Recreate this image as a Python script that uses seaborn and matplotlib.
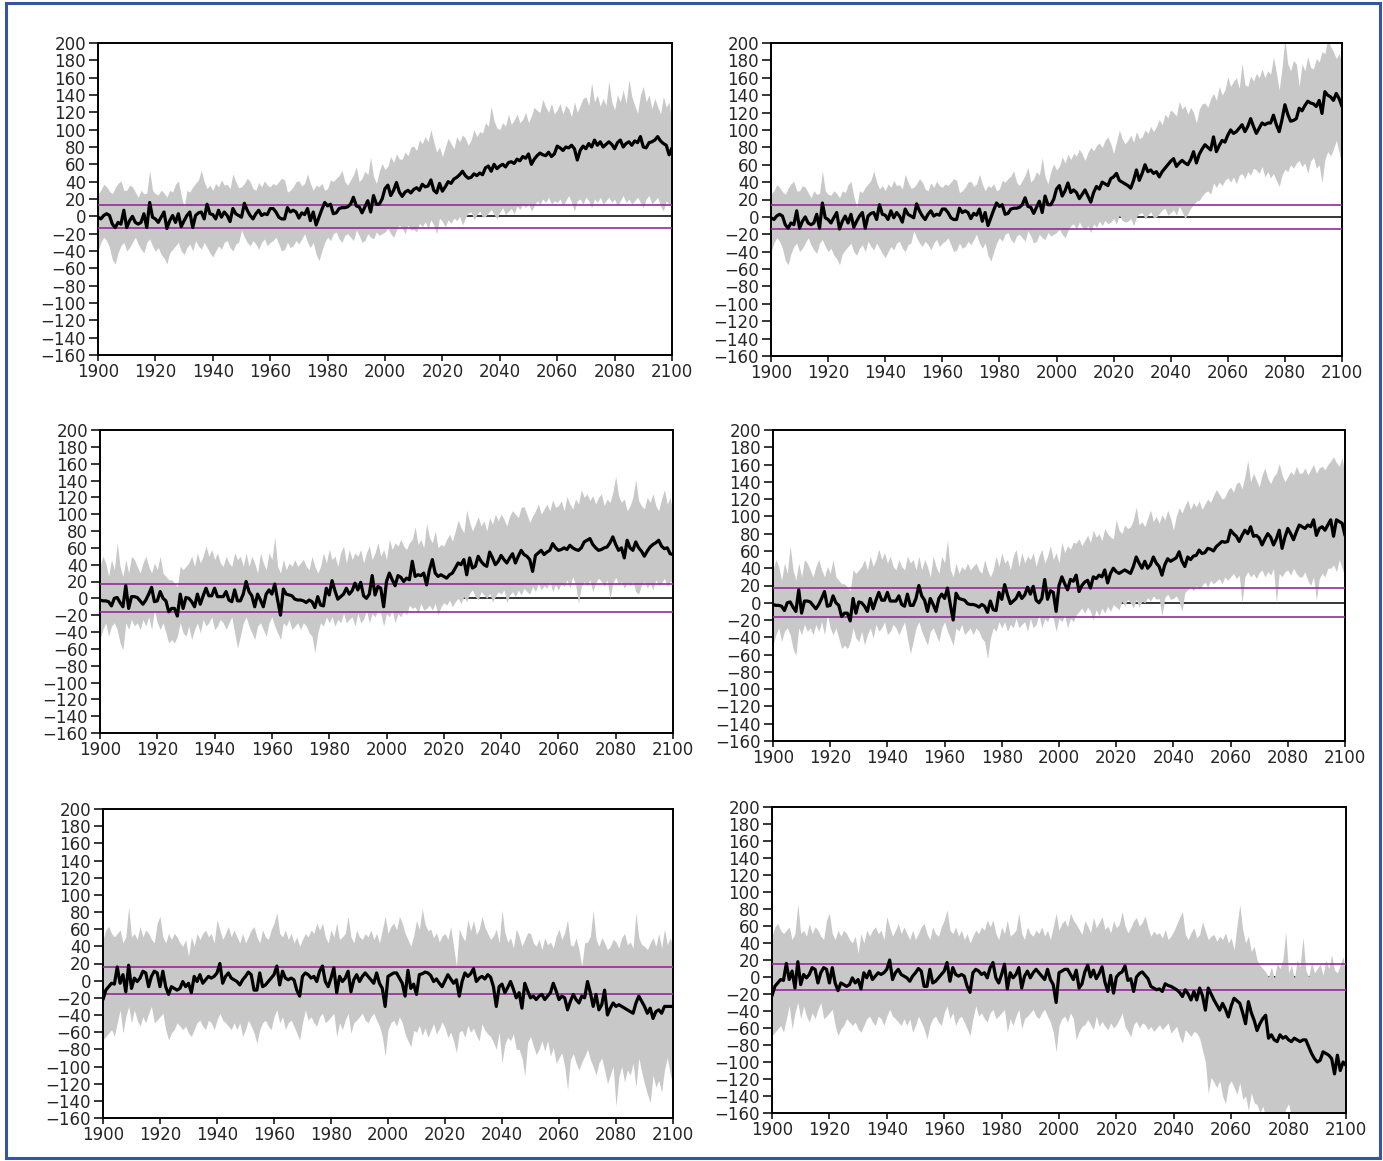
import numpy as np
import matplotlib
matplotlib.use('Agg')
import matplotlib.pyplot as plt
import seaborn as sns
from matplotlib.patches import Rectangle

# ---- data: historical 1900-2005, scenarios 2006-2100 ----
hist_years = list(range(1900, 2006))
fut_years = list(range(2006, 2101))

# row 1 (shared historical run)
r1_hist_mid = [-1, -3, 1, 3, 1, -9, -13, -7, -9, 7,
               -13, -5, 0, -7, -9, -7, 3, -13, 16, -1,
               -3, -7, -1, 5, -14, -5, 1, -7, 3, -12,
               -5, 1, 5, -13, 1, 4, 5, -3, 14, 3,
               2, -3, 7, -1, 5, 1, -6, 9, 3, 1,
               -1, 15, 7, 1, -3, 3, 7, 1, 3, 2,
               9, 9, 5, -1, -3, -3, 10, 5, 7, 5,
               -2, 4, 2, 9, -5, 5, -10, -1, 8, 16,
               12, 14, 3, 4, 9, 10, 10, 11, 14, 22,
               12, 11, 4, 11, 18, 5, 24, 14, 14, 20,
               32, 36, 24, 30, 39, 28]
r1_hist_hi = [26, 30, 37, 34, 29, 26, 33, 38, 41, 30,
              30, 36, 34, 28, 22, 30, 26, 27, 53, 30,
              26, 25, 30, 27, 22, 30, 28, 37, 41, 24,
              11, 30, 28, 34, 38, 42, 53, 40, 32, 36,
              30, 38, 34, 42, 36, 37, 32, 49, 40, 33,
              34, 38, 44, 40, 32, 30, 39, 34, 41, 36,
              34, 38, 36, 40, 44, 42, 28, 30, 34, 40,
              41, 35, 38, 49, 38, 30, 36, 34, 38, 30,
              32, 42, 40, 44, 47, 53, 40, 36, 42, 48,
              57, 40, 44, 52, 48, 68, 46, 38, 52, 61,
              54, 58, 69, 62, 72, 66]
r1_hist_lo = [-40, -30, -24, -28, -36, -50, -55, -42, -34, -30,
              -40, -36, -30, -24, -32, -38, -42, -30, -26, -34,
              -40, -36, -44, -48, -55, -42, -38, -34, -30, -40,
              -44, -36, -32, -40, -28, -34, -38, -30, -36, -42,
              -47, -40, -34, -38, -30, -28, -36, -40, -32, -30,
              -16, -24, -30, -34, -28, -32, -38, -30, -26, -34,
              -30, -28, -24, -32, -40, -38, -30, -36, -34, -28,
              -32, -26, -20, -30, -36, -30, -44, -51, -40, -30,
              -24, -28, -20, -18, -26, -30, -22, -20, -24, -28,
              -16, -22, -30, -28, -20, -24, -26, -18, -22, -20,
              -18, -14, -20, -24, -16, -10]

# row 1 left scenario
r1a_mid = [23, 28, 30, 27, 31, 33, 30, 37, 34, 35,
           42, 30, 27, 38, 29, 34, 40, 38, 43, 45,
           48, 52, 47, 44, 45, 49, 47, 50, 48, 56,
           58, 52, 60, 55, 58, 60, 57, 62, 63, 61,
           66, 64, 69, 67, 72, 60, 66, 70, 73, 71,
           70, 74, 69, 72, 81, 79, 76, 80, 79, 82,
           78, 65, 76, 81, 78, 84, 80, 88, 82, 86,
           80, 83, 86, 83, 78, 85, 88, 80, 84, 86,
           82, 87, 85, 92, 80, 79, 85, 86, 88, 92,
           87, 84, 82, 71, 79]
r1a_hi = [66, 74, 70, 80, 81, 76, 88, 84, 92, 86,
          100, 86, 74, 80, 69, 80, 90, 84, 78, 92,
          86, 94, 90, 82, 88, 100, 92, 98, 96, 108,
          104, 127, 110, 102, 100, 108, 104, 118, 106, 111,
          118, 108, 112, 120, 108, 116, 126, 122, 120, 135,
          126, 120, 130, 118, 123, 130, 118, 128, 124, 115,
          132, 120, 128, 136, 138, 128, 154, 132, 140, 127,
          136, 128, 156, 132, 123, 140, 132, 146, 130, 158,
          138, 128, 119, 140, 150, 132, 140, 124, 136, 127,
          118, 138, 126, 132, 104]
r1a_lo = [-14, -20, -10, -16, -15, -18, -8, -12, -6, -14,
          -4, -10, -20, -2, -6, -12, -4, -8, -2, -5,
          0, -10, -2, 4, 5, -4, 2, 6, -1, 0,
          4, 8, 2, -3, 5, 10, 2, 6, 9, 3,
          12, 8, 14, 10, 15, 6, 12, 18, 14, 20,
          16, 22, 14, 18, 16, 20, 12, 18, 24, 16,
          6, 18, 20, 14, 22, 18, 10, 20, 16, 22,
          14, 18, 22, 16, 20, 12, 18, 24, 16, 20,
          14, 18, 22, 16, 10, 20, 24, 14, 18, 22,
          12, 6, 18, 14, 10]

# row 1 right scenario
r1b_mid = [31, 28, 21, 26, 31, 24, 17, 28, 35, 32,
           40, 38, 36, 44, 46, 50, 42, 40, 38, 36,
           33, 42, 54, 42, 50, 60, 52, 54, 50, 52,
           46, 52, 56, 60, 64, 67, 58, 62, 65, 62,
           60, 66, 75, 62, 72, 78, 83, 80, 77, 92,
           75, 82, 88, 86, 94, 100, 96, 98, 102, 106,
           98, 104, 113, 104, 96, 102, 108, 106, 108, 108,
           117, 106, 98, 112, 129, 118, 110, 111, 113, 125,
           122, 128, 133, 131, 130, 127, 134, 119, 144, 140,
           138, 134, 142, 136, 127]
r1b_hi = [73, 70, 78, 72, 65, 74, 80, 76, 82, 85,
          80, 88, 92, 84, 73, 86, 100, 90, 84, 88,
          94, 86, 98, 90, 92, 100, 96, 104, 98, 104,
          112, 106, 118, 114, 123, 120, 116, 133, 124, 128,
          118, 126, 120, 108, 124, 130, 131, 126, 136, 142,
          134, 150, 140, 146, 161, 150, 156, 160, 148, 177,
          152, 150, 162, 156, 165, 160, 170, 160, 168, 164,
          184, 166, 146, 172, 205, 176, 168, 180, 176, 150,
          176, 168, 184, 172, 170, 182, 178, 190, 188, 205,
          196, 190, 182, 188, 177]
r1b_lo = [-8, -14, -6, -12, -15, -10, -18, -8, -12, -5,
          -10, -4, -8, -6, -2, -8, 2, -4, -6, -5,
          -2, -10, 0, 4, 5, -2, 2, 6, -1, 0,
          4, 8, 10, 2, 5, 8, 2, 12, 6, -2,
          4, 10, 14, 18, 19, 24, 28, 30, 26, 39,
          34, 40, 36, 42, 45, 40, 46, 38, 48, 50,
          44, 52, 48, 56, 54, 50, 58, 46, 52, 45,
          50, 42, 35, 48, 55, 52, 60, 56, 62, 65,
          58, 62, 50, 64, 69, 56, 60, 39, 66, 75,
          70, 78, 88, 74, 60]

# row 2 (shared historical run)
r2_hist_mid = [-2, -3, -3, -4, -9, 0, 1, -5, -10, 15,
               -12, 2, 2, 1, -3, -7, -2, 5, 13, -4,
               -3, 8, 0, -3, -16, -12, -12, -21, 5, -12,
               1, 0, -4, -10, 5, -7, 3, 12, 3, 3,
               12, 2, 2, 2, 8, -2, -4, 10, -3, -3,
               5, 20, 8, 3, -10, 5, -2, -10, 5, 10,
               5, 17, -2, -20, 11, 5, 4, 3, -1, -2,
               -2, -3, -5, -2, -4, -11, 2, -8, -9, 12,
               4, 21, 9, -1, 2, 5, 12, 5, 9, 18,
               10, 19, 3, 0, 5, 27, 4, 14, 12, -10,
               20, 30, 22, 15, 27, 25]
r2_hist_hi = [38, 50, 42, 26, 46, 34, 66, 38, 26, 46,
              30, 50, 46, 38, 30, 42, 50, 38, 30, 42,
              34, 50, 30, 26, 22, 22, 18, 14, 38, 34,
              38, 42, 50, 38, 54, 42, 50, 62, 50, 58,
              46, 54, 42, 38, 50, 42, 38, 54, 46, 50,
              38, 54, 38, 50, 42, 30, 54, 42, 34, 54,
              46, 73, 38, 30, 46, 34, 42, 38, 46, 38,
              42, 46, 38, 34, 50, 38, 30, 38, 54, 42,
              58, 46, 50, 38, 54, 62, 42, 58, 46, 54,
              50, 58, 42, 54, 62, 46, 54, 66, 50, 58,
              46, 70, 58, 66, 62, 70]
r2_hist_lo = [-49, -37, -29, -45, -33, -29, -37, -53, -61, -29,
              -37, -25, -33, -29, -37, -25, -33, -22, -37, -14,
              -29, -37, -29, -41, -53, -49, -53, -45, -29, -41,
              -45, -33, -49, -37, -29, -41, -25, -33, -29, -22,
              -37, -33, -25, -29, -37, -29, -22, -41, -59, -45,
              -29, -22, -33, -41, -49, -33, -29, -37, -45, -29,
              -22, -33, -41, -49, -29, -33, -25, -37, -33, -29,
              -37, -29, -33, -41, -45, -65, -41, -29, -33, -22,
              -29, -22, -33, -25, -29, -18, -29, -25, -22, -33,
              -18, -29, -25, -14, -29, -18, -22, -14, -18, -33,
              -18, -22, -14, -29, -18, -22]

# row 2 left scenario
r2a_mid = [20, 24, 22, 44, 26, 28, 27, 30, 16, 34,
           46, 30, 26, 28, 26, 24, 28, 30, 36, 42,
           40, 46, 28, 48, 36, 38, 50, 44, 40, 38,
           55, 48, 40, 44, 51, 46, 42, 48, 53, 42,
           50, 57, 52, 50, 46, 32, 51, 54, 57, 52,
           55, 57, 65, 60, 57, 58, 60, 58, 63, 60,
           58, 57, 60, 67, 69, 71, 64, 60, 57, 58,
           60, 61, 66, 73, 64, 57, 60, 48, 69, 60,
           57, 67, 60, 56, 50, 56, 61, 64, 66, 69,
           62, 59, 60, 53, 52]
r2a_hi = [62, 58, 66, 70, 85, 64, 70, 60, 89, 72,
          66, 80, 60, 64, 62, 70, 76, 68, 80, 93,
          84, 78, 105, 90, 80, 88, 97, 86, 92, 80,
          96, 88, 100, 92, 100, 94, 86, 98, 104, 100,
          96, 108, 109, 100, 90, 98, 104, 112, 100, 106,
          112, 104, 117, 108, 110, 116, 104, 121, 112, 106,
          118, 112, 129, 120, 124, 116, 122, 112, 120, 124,
          110, 118, 114, 126, 145, 122, 114, 118, 104, 110,
          120, 141, 116, 110, 106, 120, 114, 124, 110, 104,
          118, 129, 112, 120, 101]
r2a_lo = [-15, -20, -8, -12, -10, -18, -6, -14, -12, -8,
          -14, -6, -20, -10, -5, -8, -2, -10, -4, 0,
          -6, 2, -4, 6, 10, 2, -2, 8, 4, 0,
          6, -4, 2, 8, 5, 10, -5, 4, 8, 2,
          10, 4, 12, 8, 5, 14, 8, 18, 10, 15,
          12, 20, 8, 16, 10, 18, 14, 22, 12, 26,
          16, -6, 14, 20, 15, 22, 8, 18, 24, 20,
          14, 22, 0, 18, 25, 16, 20, 12, 18, 15,
          20, 8, 5, 16, 20, 12, 18, 10, 22, 15,
          18, 24, 14, 20, 20]

# row 2 right scenario
r2b_mid = [32, 13, 20, 24, 26, 17, 30, 28, 32, 30,
           38, 23, 34, 40, 36, 34, 36, 38, 36, 34,
           42, 53, 46, 40, 48, 40, 44, 53, 46, 42,
           32, 44, 51, 48, 50, 52, 59, 48, 42, 53,
           50, 54, 55, 61, 57, 58, 63, 62, 60, 65,
           68, 71, 70, 71, 84, 80, 77, 71, 78, 84,
           80, 88, 77, 78, 75, 67, 74, 80, 76, 67,
           74, 84, 63, 76, 86, 80, 73, 82, 90, 88,
           86, 90, 88, 96, 78, 86, 88, 84, 90, 96,
           77, 96, 94, 92, 78]
r2b_hi = [69, 74, 66, 72, 78, 70, 84, 76, 80, 72,
          86, 80, 76, 74, 96, 84, 80, 90, 86, 88,
          96, 111, 90, 94, 88, 98, 107, 94, 100, 92,
          102, 96, 107, 98, 84, 100, 110, 104, 112, 119,
          108, 116, 111, 118, 108, 114, 120, 116, 124, 131,
          126, 120, 122, 130, 134, 128, 138, 140, 132, 146,
          165, 140, 150, 142, 134, 148, 156, 144, 138, 146,
          150, 161, 148, 140, 146, 152, 148, 158, 150, 150,
          156, 148, 154, 160, 150, 156, 158, 154, 160, 164,
          169, 162, 158, 168, 146]
r2b_lo = [-14, -10, -6, -12, -5, -10, -20, -8, -15, -6,
          -12, -4, -10, -2, -5, -8, 2, -4, 4, 0,
          -6, 4, -5, 2, 0, 6, 2, 8, 4, 5,
          -15, 6, 10, 4, 5, 8, 2, -10, 12, 15,
          18, 14, 20, 16, 20, 24, 18, 26, 22, 25,
          28, 22, 30, 26, 30, 34, 28, 32, 0, 30,
          36, 30, 34, 28, 35, 38, 30, 36, 32, 40,
          0, 34, 30, 36, 38, 32, 40, 34, 30, 30,
          36, 26, 20, 30, 3, 28, 34, 30, 40, 40,
          44, 36, 50, 40, 30]

# row 3 (shared historical run)
r3_hist_mid = [-22, -11, -7, -3, -4, 16, -3, 7, -13, 18,
               -9, 3, -1, 3, 11, 9, -7, 5, 11, 9,
               -7, 11, -7, -16, -7, -9, -11, -9, -1, -7,
               -3, -14, 5, -1, 7, -3, 1, 5, 3, 5,
               9, 20, -3, 5, 9, 3, 1, -1, -5, 1,
               5, 10, 7, -11, -11, 9, -7, -5, -1, 3,
               7, 17, -5, 11, 3, 1, 3, 1, -11, -18,
               5, 9, 7, 3, 5, -1, 11, 17, -1, -7,
               3, 15, -14, 5, -1, 3, 11, -13, 1, 7,
               -1, 5, 9, 5, 1, -3, 9, -3, -9, -30,
               5, 7, 9, 9, 3, -3]
r3_hist_hi = [48, 59, 63, 55, 51, 55, 59, 44, 51, 86,
              51, 55, 48, 63, 51, 59, 55, 48, 44, 67,
              75, 51, 44, 55, 48, 55, 51, 44, 40, 48,
              28, 51, 40, 55, 48, 55, 59, 51, 55, 44,
              71, 59, 48, 55, 63, 51, 59, 51, 44, 55,
              44, 51, 59, 63, 51, 44, 59, 51, 48, 59,
              67, 79, 55, 51, 59, 48, 55, 44, 51, 40,
              48, 55, 51, 59, 55, 67, 59, 67, 51, 44,
              59, 51, 67, 48, 51, 55, 75, 51, 44, 59,
              51, 48, 55, 51, 59, 48, 55, 44, 59, 75,
              55, 63, 67, 59, 75, 67]
r3_hist_lo = [-69, -65, -61, -57, -65, -49, -34, -61, -42, -30,
              -49, -34, -46, -53, -42, -49, -38, -30, -49, -46,
              -42, -38, -57, -69, -61, -57, -49, -53, -57, -53,
              -61, -65, -57, -49, -46, -53, -57, -46, -49, -57,
              -46, -38, -46, -49, -53, -57, -49, -57, -49, -65,
              -57, -46, -53, -61, -73, -57, -49, -46, -53, -57,
              -42, -34, -49, -42, -57, -49, -46, -53, -61, -69,
              -49, -34, -46, -42, -49, -53, -42, -38, -49, -46,
              -42, -38, -65, -49, -57, -46, -38, -61, -49, -46,
              -42, -38, -46, -49, -42, -38, -46, -53, -65, -88,
              -57, -49, -46, -53, -42, -49]

# row 3 left scenario
r3a_mid = [-18, 12, -9, -4, -16, 7, 8, 10, 9, 6,
           -1, 2, -3, -7, 0, 7, 2, -3, 1, -18,
           -1, 9, 5, 8, 14, -1, 3, 5, 2, 7,
           4, -7, -30, -7, -4, -14, -8, -1, -10, -20,
           -14, -32, -3, -12, -20, -18, -22, -18, -16, -22,
           -18, -14, -3, -12, -22, -18, -20, -34, -24, -16,
           -22, -26, -18, -20, -1, -14, -30, -16, -34, -28,
           -11, -40, -32, -26, -30, -28, -30, -32, -34, -36,
           -38, -26, -18, -24, -30, -38, -32, -44, -36, -34,
           -38, -30, -30, -30, -30]
r3a_hi = [55, 48, 40, 52, 70, 60, 84, 66, 58, 60,
          50, 56, 45, 52, 55, 48, 63, 40, 17, 60,
          52, 46, 71, 58, 70, 54, 60, 75, 62, 55,
          48, 52, 60, 44, 82, 56, 45, 50, 38, 60,
          52, 40, 48, 56, 55, 44, 40, 48, 36, 50,
          42, 45, 38, 52, 60, 48, 56, 71, 42, 40,
          50, 36, 17, 44, 45, 52, 82, 48, 40, 50,
          44, 36, 40, 48, 45, 38, 50, 55, 42, 45,
          38, 79, 50, 42, 40, 36, 44, 50, 40, 55,
          38, 60, 42, 50, 40]
r3a_lo = [-62, -70, -77, -58, -60, -52, -64, -55, -66, -58,
          -50, -62, -56, -48, -55, -66, -60, -70, -84, -60,
          -58, -66, -52, -60, -55, -64, -70, -50, -58, -62,
          -65, -72, -80, -60, -96, -74, -66, -70, -62, -80,
          -80, -90, -111, -72, -65, -76, -86, -80, -70, -82,
          -70, -88, -78, -96, -90, -84, -100, -127, -92, -85,
          -96, -104, -95, -88, -80, -92, -100, -110, -96, -90,
          -104, -120, -110, -100, -146, -112, -100, -118, -104, -110,
          -96, -124, -90, -106, -120, -132, -142, -110, -124, -116,
          -130, -104, -90, -108, -123]

# row 3 right scenario
r3b_mid = [8, -13, -8, 6, 14, 0, 8, -2, 4, 12,
           -6, -17, 2, -19, 0, 4, 6, 13, -4, -2,
           -17, 0, 4, 6, 2, -2, -11, -13, -15, -14,
           -17, -8, -10, -11, -13, -15, -18, -23, -15, -20,
           -27, -17, -27, -13, -22, -39, -13, -20, -27, -33,
           -39, -31, -38, -47, -34, -25, -28, -31, -42, -55,
           -29, -42, -51, -63, -55, -49, -45, -72, -68, -74,
           -76, -68, -72, -70, -74, -76, -72, -74, -76, -74,
           -74, -82, -90, -96, -100, -98, -88, -90, -92, -96,
           -114, -92, -110, -100, -104]
r3b_hi = [62, 56, 50, 66, 60, 52, 70, 58, 64, 71,
          56, 60, 52, 66, 58, 62, 77, 60, 52, 58,
          66, 70, 60, 64, 72, 58, 48, 54, 50, 52,
          46, 56, 44, 48, 54, 62, 70, 77, 50, 44,
          52, 58, 46, 50, 65, 54, 44, 48, 50, 42,
          48, 44, 52, 40, 46, 32, 60, 85, 56, 40,
          48, 30, 36, 20, 14, 10, 6, 0, 12, -2,
          16, 10, 20, 53, 5, 14, -2, 20, 12, 47,
          8, 0, 18, 5, 10, 15, 2, 20, 10, 26,
          8, 5, 14, 24, 0]
r3b_lo = [-74, -64, -58, -56, -50, -56, -62, -46, -58, -52,
          -58, -62, -54, -60, -56, -50, -42, -58, -64, -70,
          -56, -52, -60, -54, -56, -62, -58, -64, -60, -56,
          -62, -58, -54, -66, -62, -58, -70, -78, -62, -66,
          -70, -64, -66, -72, -86, -100, -137, -118, -124, -130,
          -122, -140, -149, -128, -122, -130, -138, -124, -144, -140,
          -157, -136, -148, -150, -160, -152, -165, -158, -170, -162,
          -168, -160, -170, -155, -149, -165, -172, -160, -168, -175,
          -170, -165, -178, -162, -170, -175, -168, -180, -172, -178,
          -175, -180, -170, -178, -180]

# noise band (purple lines) per row
noise_level = [13.6, 16.8, 15.8]

y_ticks = list(range(-160, 201, 20))
x_ticks = list(range(1900, 2101, 20))

# ---- style ----
sns.set_style('ticks')
plt.rcParams['font.family'] = ['DejaVu Sans']

W, H = 1383, 1161
fig = plt.figure(figsize=(W / 100, H / 100), dpi=100)

# axes boxes in pixels (left, top, right, bottom)
boxes = [
    [(98, 43, 672, 355), (771, 43, 1342, 356)],
    [(100, 430, 673, 733), (773, 430, 1345, 741)],
    [(103, 809, 673, 1118), (772, 807, 1346, 1113)],
]

rows = [
    (r1_hist_mid, r1_hist_hi, r1_hist_lo,
     [(r1a_mid, r1a_hi, r1a_lo), (r1b_mid, r1b_hi, r1b_lo)]),
    (r2_hist_mid, r2_hist_hi, r2_hist_lo,
     [(r2a_mid, r2a_hi, r2a_lo), (r2b_mid, r2b_hi, r2b_lo)]),
    (r3_hist_mid, r3_hist_hi, r3_hist_lo,
     [(r3a_mid, r3a_hi, r3a_lo), (r3b_mid, r3b_hi, r3b_lo)]),
]

years = np.array(hist_years + fut_years)

for i, (h_mid, h_hi, h_lo, scen) in enumerate(rows):
    for j, (f_mid, f_hi, f_lo) in enumerate(scen):
        x0, y0, x1, y1 = boxes[i][j]
        ax = fig.add_axes([x0 / W, 1 - y1 / H, (x1 - x0) / W, (y1 - y0) / H])

        mid = np.array(h_mid + f_mid, dtype=float)
        hi = np.array(h_hi + f_hi, dtype=float)
        lo = np.array(h_lo + f_lo, dtype=float)

        ax.axhline(0, color='black', lw=1.1, zorder=1)
        ax.fill_between(years, lo, hi, color='#c8c8c8', lw=0, zorder=2)
        lvl = noise_level[i]
        ax.axhline(lvl, color='#952a98', lw=1.2, zorder=3)
        ax.axhline(-lvl, color='#952a98', lw=1.2, zorder=3)
        sns.lineplot(x=years, y=mid, ax=ax, color='black', lw=2.3,
                     estimator=None, zorder=4)

        ax.set_xlim(1900, 2100)
        ax.set_ylim(-160, 200)
        ax.set_xticks(x_ticks)
        ax.set_yticks(y_ticks)
        ax.set_xlabel('')
        ax.set_ylabel('')
        for sp in ax.spines.values():
            sp.set_visible(True)
            sp.set_linewidth(1.4)
            sp.set_color('black')
        ax.tick_params(axis='y', direction='out', length=6.5, width=1.3,
                       labelsize=12, pad=2)
        ax.tick_params(axis='x', direction='out', length=4.5, width=1.3,
                       labelsize=12, pad=1)
        ax.tick_params(top=False, right=False)

# blue frame around the whole figure
fig.patches.append(Rectangle((6 / W, 3 / H), (1380 - 6) / W, (1158 - 3) / H,
                             transform=fig.transFigure, fill=False,
                             ec='#3454a4', lw=2.2))

fig.savefig('out.png', dpi=100)
plt.close(fig)
